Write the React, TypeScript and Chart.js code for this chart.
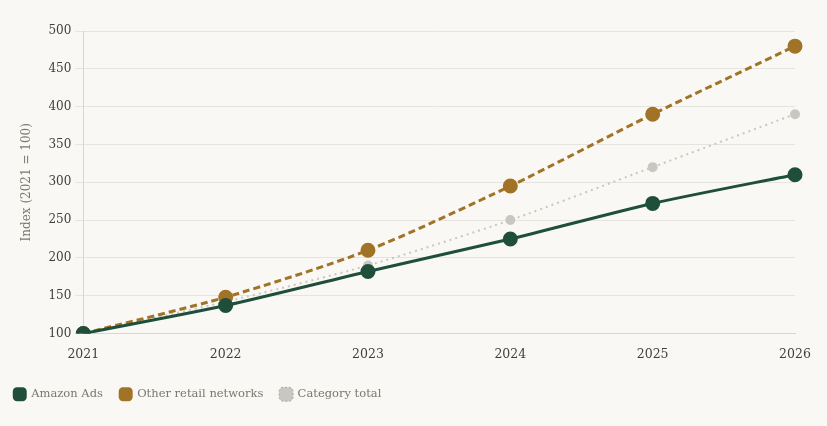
import React, { useEffect, useRef } from "react";
import { Chart, registerables } from "chart.js";

Chart.register(...registerables);

const years = ["2021", "2022", "2023", "2024", "2025", "2026"];
const amazonAds = [100, 137, 182, 225, 272, 310];
const otherRetail = [100, 148, 210, 295, 390, 480];
const categoryTotal = [100, 142, 190, 250, 320, 390];

const GREEN = "#1f4f3c";
const GOLD = "#a17327";
const GREY = "#c9c7c1";
const BG = "#f9f8f4";

export default function App() {
  const ref = useRef<HTMLCanvasElement | null>(null);
  useEffect(() => {
    document.body.style.background = BG;
    if (!ref.current) return;
    const font = "'DejaVu Serif', 'Liberation Serif', serif";
    const chart = new Chart(ref.current, {
      type: "line",
      data: {
        labels: years,
        datasets: [
          {
            label: "Amazon Ads",
            data: amazonAds,
            borderColor: GREEN,
            backgroundColor: GREEN,
            borderWidth: 3,
            pointRadius: 6,
            pointHoverRadius: 6,
            tension: 0.25,
          },
          {
            label: "Other retail networks",
            data: otherRetail,
            borderColor: GOLD,
            backgroundColor: GOLD,
            borderWidth: 3,
            borderDash: [7, 4],
            pointRadius: 6,
            pointHoverRadius: 6,
            tension: 0.25,
          },
          {
            label: "Category total",
            data: categoryTotal,
            borderColor: GREY,
            backgroundColor: GREY,
            borderWidth: 2,
            borderDash: [2, 4],
            pointRadius: 4,
            pointHoverRadius: 4,
            tension: 0.25,
          },
        ],
      },
      options: {
        animation: false,
        responsive: true,
        maintainAspectRatio: false,
        layout: { padding: { left: 0, right: 31, top: 23, bottom: 8 } },
        plugins: {
          legend: {
            position: "bottom",
            align: "start",
            labels: {
              usePointStyle: true,
              pointStyle: "rectRounded",
              boxWidth: 13,
              boxHeight: 13,
              padding: 17,
              color: "#7a7770",
              font: { family: font, size: 11.5 },
              generateLabels: (c: any) =>
                c.data.datasets.map((d: any, i: number) => ({
                  text: d.label,
                  fillStyle: d.backgroundColor,
                  strokeStyle: i === 2 ? "#a9a7a1" : d.backgroundColor,
                  lineWidth: i === 2 ? 1 : 0,
                  lineDash: i === 2 ? [2, 2] : [],
                  pointStyle: "rectRounded",
                  fontColor: "#7a7770",
                  datasetIndex: i,
                  hidden: false,
                })),
            },
          },
          tooltip: { enabled: false },
        },
        scales: {
          x: {
            grid: { display: false },
            border: { color: "#d8d6d0" },
            ticks: { color: "#3f3f3f", font: { family: font, size: 12.5 }, padding: 6 },
            afterFit: (scale: any) => {
              scale.height += 3;
            },
          },
          y: {
            min: 100,
            max: 500,
            grid: { color: "#e6e4de", tickLength: 8 },
            border: { color: "#d8d6d0" },
            ticks: { stepSize: 50, color: "#3f3f3f", font: { family: font, size: 12 }, padding: 4 },
            title: {
              display: true,
              text: "Index (2021 = 100)",
              color: "#7a7770",
              font: { family: font, size: 12 },
              padding: { top: 23, bottom: 10 },
            },
          },
        },
      },
    });
    return () => chart.destroy();
  }, []);
  return (
    <div style={{ width: 829, height: 410, marginLeft: -11, background: BG }}>
      <canvas ref={ref} />
    </div>
  );
}
